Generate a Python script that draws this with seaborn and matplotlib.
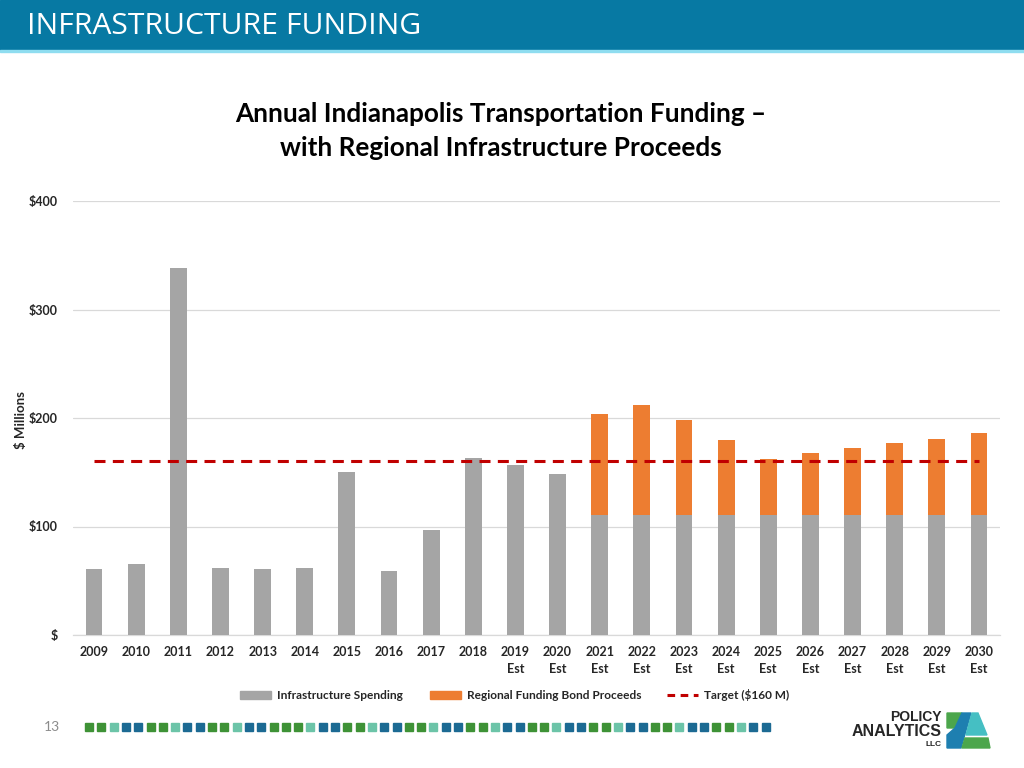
import matplotlib
matplotlib.use('Agg')
import matplotlib.pyplot as plt
from matplotlib.patches import Rectangle, Patch, Polygon
from matplotlib.lines import Line2D
import seaborn as sns
import pandas as pd

# data ($ millions)
years = ['2009', '2010', '2011', '2012', '2013', '2014', '2015', '2016', '2017', '2018',
         '2019\nEst', '2020\nEst', '2021\nEst', '2022\nEst', '2023\nEst', '2024\nEst',
         '2025\nEst', '2026\nEst', '2027\nEst', '2028\nEst', '2029\nEst', '2030\nEst']
infrastructure = [61, 65, 338, 62, 61, 62, 150, 59, 97, 163, 157, 148,
                  111, 111, 111, 111, 111, 111, 111, 111, 111, 111]
bond_proceeds = [0, 0, 0, 0, 0, 0, 0, 0, 0, 0, 0, 0,
                 93, 101, 87, 69, 51, 57, 61, 66, 70, 75]
target = 160
y_ticks = [0, 100, 200, 300, 400]
y_tick_labels = ['$', '$100', '$200', '$300', '$400']

GRAY = '#A5A5A5'
ORANGE = '#ED7D31'
RED = '#C00000'

df = pd.DataFrame({'Year': years, 'Infrastructure': infrastructure, 'Bond': bond_proceeds})
df['Total'] = df['Infrastructure'] + df['Bond']

sns.set_style('white')
plt.rcParams['font.family'] = ['Lato', 'DejaVu Sans']

W, H = 1024, 768
fig = plt.figure(figsize=(W / 100, H / 100), dpi=100)


def fx(x):
    return x / W


def fy(y):
    return 1 - y / H


# header band
fig.patches.append(Rectangle((0, fy(50)), 1, 50 / H, transform=fig.transFigure,
                             color='#0779A3', zorder=0))
fig.patches.append(Rectangle((0, fy(52)), 1, 2 / H, transform=fig.transFigure,
                             color='#8FDDF0', zorder=0))
fig.text(fx(27), fy(27), 'INFRASTRUCTURE FUNDING', color='white', fontsize=21.7,
         family=['Open Sans', 'DejaVu Sans'], ha='left', va='center')

# chart title
fig.text(fx(501), fy(131), 'Annual Indianapolis Transportation Funding \u2013\nwith Regional Infrastructure Proceeds',
         ha='center', va='center', fontsize=18.8, fontweight='bold', color='black',
         linespacing=1.45)

ax = fig.add_axes([fx(73), fy(635), (1000 - 73) / W, (635 - 201) / H])

# stacked bars: totals (orange) drawn first, infrastructure (gray) on top
sns.barplot(data=df, x='Year', y='Total', color=ORANGE, saturation=1, width=0.4,
            edgecolor='none', linewidth=0, ax=ax, zorder=2)
sns.barplot(data=df, x='Year', y='Infrastructure', color=GRAY, saturation=1, width=0.4,
            edgecolor='none', linewidth=0, ax=ax, zorder=3)
ax.plot([0, len(years) - 1], [target, target], color=RED, lw=2.2,
        linestyle=(0, (3.6, 2.4)), zorder=4)

ax.set_xlim(-0.5, len(years) - 0.5)
ax.set_ylim(0, 400)
ax.set_yticks(y_ticks)
ax.set_yticklabels(y_tick_labels)
ax.grid(axis='y', color='#D9D9D9', lw=0.9, zorder=0)
ax.set_axisbelow(True)
for s in ['top', 'right', 'left']:
    ax.spines[s].set_visible(False)
ax.spines['bottom'].set_color('#D9D9D9')
ax.spines['bottom'].set_linewidth(0.9)
ax.tick_params(axis='x', length=0, pad=8, labelsize=9)
ax.tick_params(axis='y', length=0, pad=11, labelsize=9)
for lbl in ax.get_xticklabels() + ax.get_yticklabels():
    lbl.set_fontweight('bold')
    lbl.set_linespacing(1.5)
ax.set_xlabel('')
ax.set_ylabel('')
fig.text(fx(21), fy(420), '$ Millions', rotation=90, ha='center', va='center',
         fontsize=9.5, fontweight='bold')

# legend
handles = [Patch(color=GRAY), Patch(color=ORANGE),
           Line2D([0], [0], color=RED, lw=2.2, linestyle=(0, (2.5, 1.8)))]
labels = ['Infrastructure Spending', 'Regional Funding Bond Proceeds', 'Target ($160 M)']
leg = fig.legend(handles, labels, loc='center', bbox_to_anchor=(fx(515), fy(695)), ncol=3,
                 frameon=False, fontsize=8.6, handlelength=2.6, handleheight=0.6,
                 columnspacing=2.2, handletextpad=0.5)
for t in leg.get_texts():
    t.set_fontweight('bold')

# footer: page number, square strip, logo
fig.text(fx(52), fy(727), '13', color='#8C8C8C', fontsize=10, ha='center', va='center')
sq_colors = {'G': '#3E9236', 'T': '#6CC4A8', 'B': '#1C6A93'}
pattern = 'GGTBBGGTBBGGTBBGGGTBBGGTBBGGTBBGGTBBGGTBBGGTBBGGTBBGGTBB'
for i, c in enumerate(pattern):
    x0 = 85 + i * 12.3
    fig.patches.append(Rectangle((fx(x0), fy(731)), 8 / W, 8 / H, transform=fig.transFigure,
                                 color=sq_colors[c], zorder=1))

fig.text(fx(942), fy(717), 'POLICY', fontsize=10, fontweight='bold', ha='right', va='center',
         family=['Liberation Sans', 'DejaVu Sans'])
fig.text(fx(942), fy(731), 'ANALYTICS', fontsize=11.5, fontweight='bold', ha='right',
         va='center', family=['Liberation Sans', 'DejaVu Sans'])
fig.text(fx(942), fy(744), 'LLC', fontsize=6, fontweight='bold', ha='right', va='center',
         family=['Liberation Sans', 'DejaVu Sans'])


def poly(pts, color):
    fig.patches.append(Polygon([(fx(a), fy(b)) for a, b in pts], closed=True,
                               transform=fig.transFigure, color=color, zorder=2))


poly([(947, 713), (962, 713), (955, 728), (947, 728)], '#4CA64C')
poly([(962, 713), (971, 713), (961, 748), (947, 748), (947, 735), (955, 728)], '#1E7FB0')
poly([(972, 713), (978, 713), (987, 735), (966, 735)], '#45BFC3')
poly([(965, 738), (988, 738), (990, 748), (962, 748)], '#4CA64C')

fig.savefig('out.png', dpi=100)
